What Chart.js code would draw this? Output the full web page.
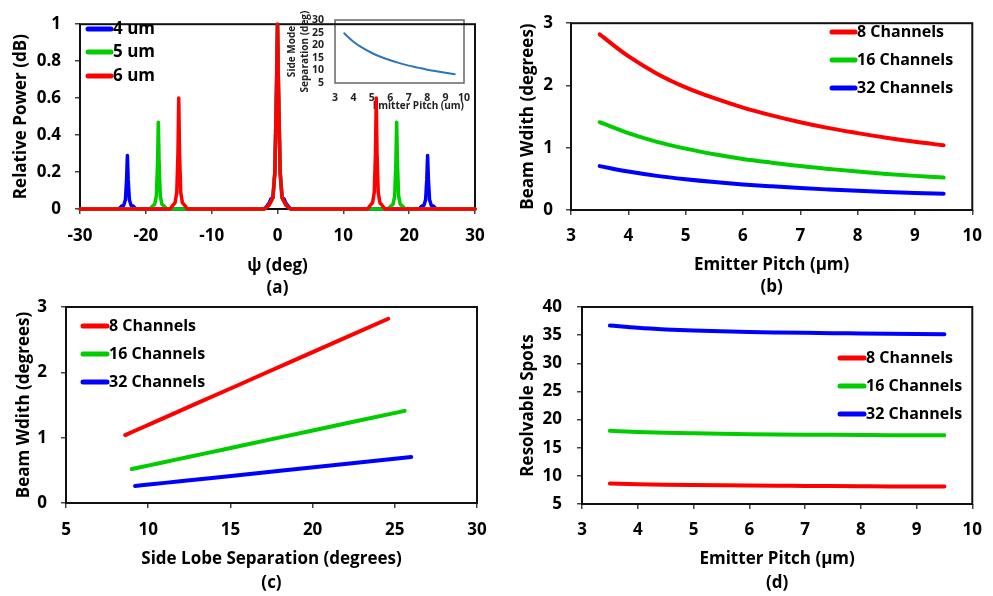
<!DOCTYPE html>
<html lang="en">
<head>
<meta charset="UTF-8" />
<title>Emitter pitch study</title>
<script src="https://cdn.jsdelivr.net/npm/chart.js"></script>
<style>
  body { margin: 0; background: #fff; }
  #wrap { position: relative; width: 993px; height: 596px; }
  #wrap canvas { position: absolute; left: 0; top: 0; }
</style>
</head>
<body>
<div id="wrap">
  <canvas id="inset" width="993" height="596"></canvas>
  <canvas id="chartA" width="993" height="596"></canvas>
  <canvas id="chartB" width="993" height="596"></canvas>
  <canvas id="chartC" width="993" height="596"></canvas>
  <canvas id="chartD" width="993" height="596"></canvas>
</div>
<script>
// (a) far-field patterns, psi in degrees vs relative power
const psi4 = [-30, -24.1, -23.7, -23.35, -23.1, -22.92, -22.8, -22.68, -22.5, -22.25, -21.9, -21.5,
  -2.0, -1.3, -1.0, -0.7, -0.4, -0.15, 0, 0.15, 0.4, 0.7, 1.0, 1.3, 2.0,
  21.5, 21.9, 22.25, 22.5, 22.68, 22.8, 22.92, 23.1, 23.35, 23.7, 24.1, 30];
const pow4 = [0, 0, 0.015, 0.02, 0.05, 0.16, 0.29, 0.16, 0.05, 0.02, 0.015, 0,
  0, 0.03, 0.055, 0.06, 0.2, 0.65, 1, 0.65, 0.2, 0.06, 0.055, 0.03, 0,
  0, 0.015, 0.02, 0.05, 0.16, 0.29, 0.16, 0.05, 0.02, 0.015, 0, 0];
const psi5 = [-30, -19.4, -19.0, -18.65, -18.4, -18.22, -18.1, -17.98, -17.8, -17.55, -17.2, -16.8,
  -2.0, -1.3, -1.0, -0.7, -0.4, -0.15, 0, 0.15, 0.4, 0.7, 1.0, 1.3, 2.0,
  16.8, 17.2, 17.55, 17.8, 17.98, 18.1, 18.22, 18.4, 18.65, 19.0, 19.4, 30];
const pow5 = [0, 0, 0.015, 0.025, 0.07, 0.25, 0.47, 0.25, 0.07, 0.025, 0.015, 0,
  0, 0.02, 0.04, 0.06, 0.2, 0.65, 1, 0.65, 0.2, 0.06, 0.04, 0.02, 0,
  0, 0.015, 0.025, 0.07, 0.25, 0.47, 0.25, 0.07, 0.025, 0.015, 0, 0];
const psi6 = [-30, -16.3, -15.9, -15.55, -15.3, -15.12, -15.0, -14.88, -14.7, -14.45, -14.1, -13.7,
  -2.0, -1.3, -1.0, -0.7, -0.4, -0.15, 0, 0.15, 0.4, 0.7, 1.0, 1.3, 2.0,
  13.7, 14.1, 14.45, 14.7, 14.88, 15.0, 15.12, 15.3, 15.55, 15.9, 16.3, 30];
const pow6 = [0, 0, 0.02, 0.035, 0.09, 0.3, 0.6, 0.3, 0.09, 0.035, 0.02, 0,
  0, 0.02, 0.04, 0.06, 0.2, 0.65, 1, 0.65, 0.2, 0.06, 0.04, 0.02, 0,
  0, 0.02, 0.035, 0.09, 0.3, 0.6, 0.3, 0.09, 0.035, 0.02, 0, 0];

// emitter pitch in um, shared by (b), (d) and the inset
const pitch = [3.5, 4, 4.5, 5, 5.5, 6, 6.5, 7, 7.5, 8, 8.5, 9, 9.5];
const sideSep = [24.7, 21.4, 18.9, 16.9, 15.3, 14.0, 12.9, 11.9, 11.1, 10.3, 9.7, 9.1, 8.5];

// beam width (degrees)
const bw8 = [2.82, 2.47, 2.19, 1.97, 1.795, 1.645, 1.52, 1.41, 1.315, 1.235, 1.16, 1.095, 1.04];
const bw16 = [1.41, 1.235, 1.095, 0.985, 0.895, 0.82, 0.76, 0.705, 0.66, 0.617, 0.58, 0.548, 0.52];
const bw32 = [0.705, 0.617, 0.548, 0.494, 0.449, 0.411, 0.38, 0.352, 0.329, 0.308, 0.29, 0.274, 0.26];

// side lobe separation (degrees) for each channel count
const sep8 = [24.6, 21.45, 18.94, 16.96, 15.39, 14.04, 12.91, 11.93, 11.07, 10.35, 9.68, 9.09, 8.6];
const sep16 = [25.6, 22.34, 19.73, 17.67, 16.0, 14.6, 13.48, 12.45, 11.61, 10.81, 10.12, 9.52, 9.0];
const sep32 = [26.0, 22.68, 20.07, 18.03, 16.33, 14.9, 13.73, 12.67, 11.8, 11.01, 10.33, 9.73, 9.2];

// resolvable spots
const spots8 = [8.65, 8.52, 8.43, 8.37, 8.32, 8.28, 8.25, 8.22, 8.19, 8.16, 8.13, 8.11, 8.1];
const spots16 = [18.0, 17.8, 17.65, 17.55, 17.47, 17.41, 17.36, 17.32, 17.29, 17.26, 17.23, 17.21, 17.2];
const spots32 = [36.7, 36.3, 36.02, 35.82, 35.67, 35.56, 35.48, 35.41, 35.35, 35.3, 35.25, 35.2, 35.15];

const channelLabels = ['8 Channels', '16 Channels', '32 Channels'];
const pitchLabels = ['4 um', '5 um', '6 um'];

const RED = '#ff0000', GREEN = '#00cc00', BLUE = '#0000ff';
const FAMILY = '"Open Sans", "DejaVu Sans", sans-serif';

Chart.defaults.font.family = FAMILY;
Chart.defaults.font.weight = 'bold';
Chart.defaults.color = '#000';

const pts = (xs, ys) => xs.map((x, i) => ({ x: x, y: ys[i] }));
const plainNum = v => String(Number(v.toFixed(2)));

// box around the plot area, drawn under the data lines
const framePlugin = {
  id: 'frame',
  beforeDatasetsDraw(chart, args, opts) {
    const a = chart.chartArea;
    const ctx = chart.ctx;
    ctx.save();
    ctx.strokeStyle = opts.color || '#111';
    ctx.lineWidth = opts.width || 2;
    ctx.strokeRect(a.left, a.top, a.right - a.left, a.bottom - a.top);
    ctx.restore();
  }
};

// small in-plot key: a thick stroke followed by the dataset label
const keyPlugin = {
  id: 'key',
  afterDatasetsDraw(chart, args, opts) {
    if (!opts.y) return;
    const ctx = chart.ctx;
    ctx.save();
    ctx.font = 'bold ' + opts.size + 'px ' + FAMILY;
    ctx.textBaseline = 'middle';
    chart.data.datasets.forEach((ds, i) => {
      const y = opts.y[i];
      ctx.strokeStyle = ds.borderColor;
      ctx.lineWidth = 5;
      ctx.lineCap = 'round';
      ctx.beginPath();
      ctx.moveTo(opts.x, y);
      ctx.lineTo(opts.x + opts.len, y);
      ctx.stroke();
      ctx.fillStyle = '#000';
      ctx.fillText(ds.label, opts.x + opts.len + 2, y);
    });
    ctx.restore();
  }
};

function xAxis(min, max, step, title, lh, tickPad, height) {
  return {
    type: 'linear', min: min, max: max,
    ticks: { stepSize: step, padding: tickPad, autoSkip: false, maxRotation: 0, callback: plainNum, font: { size: 17, weight: 'bold' } },
    grid: { drawOnChartArea: false, tickLength: 5, color: '#444', lineWidth: 1.5 },
    border: { display: false },
    title: { display: true, text: title, padding: 0, font: { size: 17, weight: 'bold', lineHeight: lh } },
    afterFit: s => { s.height = height; }
  };
}

function yAxis(min, max, step, title, lh, tickPad, width) {
  return {
    type: 'linear', min: min, max: max,
    ticks: { stepSize: step, padding: tickPad, autoSkip: false, callback: plainNum, font: { size: 17, weight: 'bold' } },
    grid: { drawOnChartArea: false, tickLength: 5, color: '#444', lineWidth: 1.5 },
    border: { display: false },
    title: { display: true, text: title, padding: 0, font: { size: 17, weight: 'bold', lineHeight: lh } },
    afterFit: s => { s.width = width; }
  };
}

function line(label, xs, ys, color, extra) {
  return Object.assign({
    label: label, data: pts(xs, ys), borderColor: color, backgroundColor: color,
    borderWidth: 4, pointRadius: 0, cubicInterpolationMode: 'monotone',
    borderCapStyle: 'round', borderJoinStyle: 'round'
  }, extra || {});
}

function panel(id, datasets, scales, padding, key) {
  return new Chart(document.getElementById(id), {
    type: 'line',
    data: { datasets: datasets },
    options: {
      responsive: false, animation: false, events: [],
      layout: { padding: padding },
      scales: scales,
      plugins: { legend: { display: false }, tooltip: { enabled: false }, key: key || {} }
    },
    plugins: [framePlugin, keyPlugin]
  });
}

// inset: side mode separation vs emitter pitch
new Chart(document.getElementById('inset'), {
  type: 'line',
  data: { datasets: [line('Separation', pitch, sideSep, '#2e75b6', { borderWidth: 2 })] },
  options: {
    responsive: false, animation: false, events: [],
    layout: { padding: { left: 286, right: 529, top: 20, bottom: 483 } },
    scales: {
      x: {
        type: 'linear', min: 3, max: 10,
        ticks: { stepSize: 1, padding: 9, autoSkip: false, maxRotation: 0, color: '#222', font: { size: 10.5, weight: 'bold' } },
        grid: { display: false, drawTicks: false },
        border: { display: false },
        title: { display: true, text: 'Emitter Pitch (um)', align: 'end', padding: 0, color: '#222', font: { size: 10, weight: 'bold', lineHeight: 1.3 } },
        afterFit: s => { s.height = 30; }
      },
      y: {
        type: 'linear', min: 5, max: 30,
        ticks: { stepSize: 5, padding: 11, autoSkip: false, color: '#222', font: { size: 10.5, weight: 'bold' } },
        grid: { display: false, drawTicks: false },
        border: { display: false },
        title: { display: true, text: ['Side Mode', 'Separation (deg)'], padding: 0, color: '#222', font: { size: 10, weight: 'bold', lineHeight: 1.3 } },
        afterFit: s => { s.width = 49; }
      }
    },
    plugins: { legend: { display: false }, tooltip: { enabled: false }, frame: { color: '#666', width: 1.5 } }
  },
  plugins: [framePlugin]
});

// (a) relative power vs psi; the 6 um trace sits on top
const peakStyle = { cubicInterpolationMode: 'default', tension: 0, borderWidth: 3.5, clip: 4 };
panel('chartA', [
  line(pitchLabels[0], psi4, pow4, BLUE, Object.assign({ order: 2 }, peakStyle)),
  line(pitchLabels[1], psi5, pow5, GREEN, Object.assign({ order: 1 }, peakStyle)),
  line(pitchLabels[2], psi6, pow6, RED, Object.assign({ order: 0 }, peakStyle))
], {
  x: xAxis(-30, 30, 10, ['\u03c8 (deg)', '(a)'], 1.3, 12, 90),
  y: yAxis(0, 1, 0.2, 'Relative Power (dB)', 1.3, 14, 70)
}, { left: 10, right: 518, top: 14, bottom: 297 },
{ x: 88, len: 23, size: 17, y: [29, 52, 76] });

// (b) beam width vs emitter pitch
panel('chartB', [
  line(channelLabels[0], pitch, bw8, RED),
  line(channelLabels[1], pitch, bw16, GREEN),
  line(channelLabels[2], pitch, bw32, BLUE)
], {
  x: xAxis(3, 10, 1, ['Emitter Pitch (\u00b5m)', '(b)'], 1.3, 11, 88),
  y: yAxis(0, 3, 1, 'Beam Wdith (degrees)', 1.3, 13, 54)
}, { left: 517, right: 12, top: 13, bottom: 298 },
{ x: 832, len: 23, size: 16, y: [32, 60, 88] });

// (c) beam width vs side lobe separation, nearly straight so no smoothing
const straight = { cubicInterpolationMode: 'default', tension: 0 };
panel('chartC', [
  line(channelLabels[0], sep8, bw8, RED, straight),
  line(channelLabels[1], sep16, bw16, GREEN, straight),
  line(channelLabels[2], sep32, bw32, BLUE, straight)
], {
  x: xAxis(5, 30, 5, ['Side Lobe Separation (degrees)', '(c)'], 1.41, 12, 92),
  y: yAxis(0, 3, 1, 'Beam Wdith (degrees)', 1.41, 14, 54)
}, { left: 12, right: 516, top: 307, bottom: 1 },
{ x: 83, len: 24, size: 16, y: [326, 354, 382] });

// (d) resolvable spots vs emitter pitch
panel('chartD', [
  line(channelLabels[0], pitch, spots8, RED),
  line(channelLabels[1], pitch, spots16, GREEN),
  line(channelLabels[2], pitch, spots32, BLUE)
], {
  x: xAxis(3, 10, 1, ['Emitter Pitch (\u00b5m)', '(d)'], 1.41, 11, 91),
  y: yAxis(5, 40, 5, 'Resolvable Spots', 1.41, 15, 66)
}, { left: 516, right: 12, top: 307, bottom: 1 },
{ x: 840, len: 24, size: 16, y: [358, 386, 414] });
</script>
</body>
</html>
